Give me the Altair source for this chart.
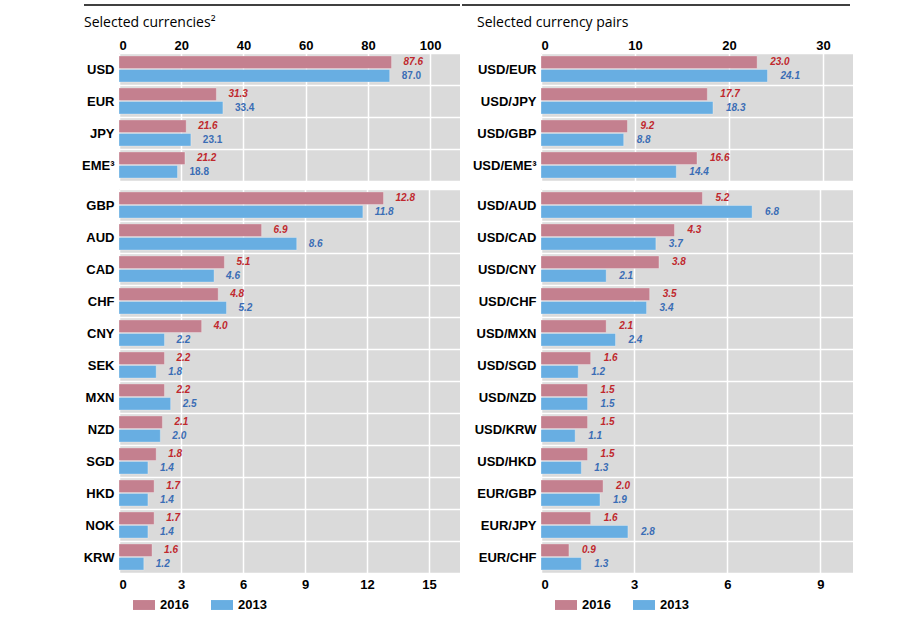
import altair as alt
import pandas as pd

years = ["2016", "2013"]

cur_top = ["USD", "EUR", "JPY", "EME³"]
cur_top_2016 = [87.6, 31.3, 21.6, 21.2]
cur_top_2013 = [87.0, 33.4, 23.1, 18.8]

cur_bot = ["GBP", "AUD", "CAD", "CHF", "CNY", "SEK", "MXN", "NZD", "SGD", "HKD", "NOK", "KRW"]
cur_bot_2016 = [12.8, 6.9, 5.1, 4.8, 4.0, 2.2, 2.2, 2.1, 1.8, 1.7, 1.7, 1.6]
cur_bot_2013 = [11.8, 8.6, 4.6, 5.2, 2.2, 1.8, 2.5, 2.0, 1.4, 1.4, 1.4, 1.2]

pair_top = ["USD/EUR", "USD/JPY", "USD/GBP", "USD/EME³"]
pair_top_2016 = [23.0, 17.7, 9.2, 16.6]
pair_top_2013 = [24.1, 18.3, 8.8, 14.4]

pair_bot = ["USD/AUD", "USD/CAD", "USD/CNY", "USD/CHF", "USD/MXN", "USD/SGD",
            "USD/NZD", "USD/KRW", "USD/HKD", "EUR/GBP", "EUR/JPY", "EUR/CHF"]
pair_bot_2016 = [5.2, 4.3, 3.8, 3.5, 2.1, 1.6, 1.5, 1.5, 1.5, 2.0, 1.6, 0.9]
pair_bot_2013 = [6.8, 3.7, 2.1, 3.4, 2.4, 1.2, 1.5, 1.1, 1.3, 1.9, 2.8, 1.3]

cur_top_ticks = [0, 20, 40, 60, 80, 100]
cur_bot_ticks = [0, 3, 6, 9, 12, 15]
pair_top_ticks = [0, 10, 20, 30]
pair_bot_ticks = [0, 3, 6, 9]

titles = ["Selected currencies²", "Selected currency pairs"]

PINK = "#c4808f"
BLUE = "#68aee2"
RED_TXT = "#c0282d"
BLUE_TXT = "#3a6db5"
FONT = "Liberation Sans"
GRID = "white"


def panel(cats, v16, v13, dom, ticks, top, width, height, dx_lbl,
          upright13=False, title=None, legend=None, y_extent=None, rule=None):
    n = len(cats)
    df = pd.DataFrame({
        "cat": cats * 2,
        "year": ["2016"] * n + ["2013"] * n,
        "value": v16 + v13,
    })
    df["label"] = df["value"].map(lambda v: f"{v:.1f}")

    x = alt.X("value:Q",
              scale=alt.Scale(domain=dom, nice=False, zero=True),
              axis=alt.Axis(values=ticks, orient="top" if top else "bottom",
                            title=None, domain=False, ticks=False, grid=True,
                            gridColor=GRID, gridWidth=1.5, gridOpacity=1,
                            labelFont=FONT, labelFontWeight="bold",
                            labelFontSize=13, labelColor="black",
                            labelPadding=1 if top else 5, format="d"))
    yaxis_kw = dict(title=None, domain=False, ticks=False, grid=True,
                    gridColor=GRID, gridWidth=1.5, gridOpacity=1,
                    tickBand="extent", labelFont=FONT, labelFontWeight="bold",
                    labelFontSize=13, labelColor="black", labelPadding=5)
    if y_extent is not None:
        yaxis_kw["minExtent"] = y_extent
        yaxis_kw["maxExtent"] = y_extent
    y = alt.Y("cat:N", sort=cats,
              scale=alt.Scale(paddingInner=0, paddingOuter=0),
              axis=alt.Axis(**yaxis_kw))
    yo = alt.YOffset("year:N", sort=years,
                     scale=alt.Scale(domain=years, paddingInner=0.07, paddingOuter=0.22))
    color = alt.Color("year:N", sort=years,
                      scale=alt.Scale(domain=years, range=[PINK, BLUE]),
                      legend=legend)

    bars = alt.Chart(df).mark_bar(stroke="white", strokeWidth=0.6, strokeOpacity=0.5).encode(
        x=x, y=y, yOffset=yo, color=color)
    t16 = alt.Chart(df).transform_filter(alt.datum.year == "2016").mark_text(
        align="left", baseline="middle", dx=dx_lbl, font=FONT, fontSize=10,
        fontWeight="bold", fontStyle="italic", color=RED_TXT
    ).encode(x=x, y=y, yOffset=yo, text="label:N")
    t13 = alt.Chart(df).transform_filter(alt.datum.year == "2013").mark_text(
        align="left", baseline="middle", dx=dx_lbl, font=FONT, fontSize=10,
        fontWeight="bold", fontStyle="normal" if upright13 else "italic",
        color=BLUE_TXT
    ).encode(x=x, y=y, yOffset=yo, text="label:N")

    layers = [bars, t16, t13]
    if rule is not None:
        rdf = pd.DataFrame({"r": [0]})
        layers.append(alt.Chart(rdf).mark_rule(color="black", strokeWidth=1.3).encode(
            x=alt.value(rule[0]), x2=alt.value(rule[1]), y=alt.value(-48)))
    if title is not None:
        tdf = pd.DataFrame({"t": [title[0]]})
        layers.append(alt.Chart(tdf).mark_text(
            align="left", baseline="alphabetic", font="Open Sans", fontSize=14,
            color="black").encode(x=alt.value(title[1]), y=alt.value(-26), text="t:N"))
    return alt.layer(*layers).properties(width=width, height=height)


def leg():
    return alt.Legend(title=None, orient="none", legendX=14, legendY=405,
                      direction="horizontal", symbolType="M-1,-0.45H1V0.45H-1Z",
                      symbolSize=484, symbolStrokeWidth=0, symbolOpacity=1,
                      labelFont=FONT, labelFontWeight="bold", labelFontSize=13,
                      labelColor="black", columnPadding=22, labelOffset=5,
                      padding=0)


LW, RW = 341, 312
TH, BH = 128, 384

topL = panel(cur_top, cur_top_2016, cur_top_2013, [0, 109.6], cur_top_ticks, True,
             LW, TH, 12, upright13=True, title=(titles[0], -35), rule=(-35, LW))
botL = panel(cur_bot, cur_bot_2016, cur_bot_2013, [0, 16.5], cur_bot_ticks, False,
             LW, BH, 12, legend=leg())
topR = panel(pair_top, pair_top_2016, pair_top_2013, [0, 33.2], pair_top_ticks, True,
             RW, TH, 13, title=(titles[1], -64), y_extent=79, rule=(-79, 309))
botR = panel(pair_bot, pair_bot_2016, pair_bot_2013, [0, 10.05], pair_bot_ticks, False,
             RW, BH, 13, legend=leg(), y_extent=79)

left = alt.vconcat(topL, botL, spacing=2).resolve_scale(color="independent")
right = alt.vconcat(topR, botR, spacing=2).resolve_scale(color="independent")

chart = alt.hconcat(left, right, spacing=0).resolve_scale(color="independent").properties(
    padding={"left": 81, "top": 4, "right": 0, "bottom": 0},
    background="white",
).configure_view(fill="#dadada", strokeWidth=0)

chart.save("out.html", embed_options={"renderer": "svg", "actions": False})
